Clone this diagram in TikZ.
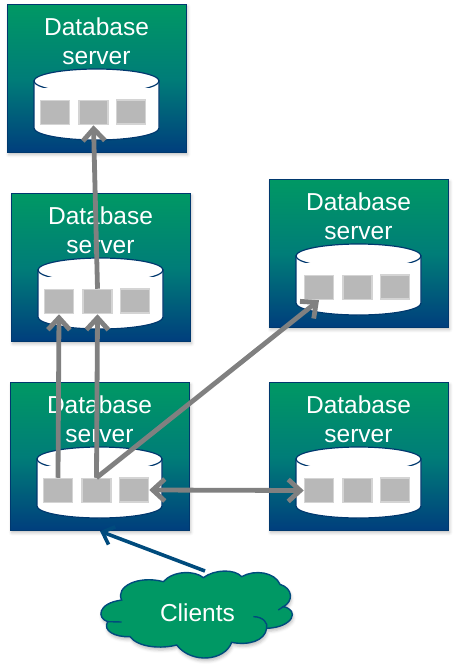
\documentclass[tikz,border=0pt]{standalone}
\usepackage{fontspec}
\setmainfont{Liberation Sans}
\usetikzlibrary{arrows.meta,shadows.blur,calc}
\definecolor{grn}{RGB}{0,152,100}
\definecolor{mid}{RGB}{0,125,120}
\definecolor{blu}{RGB}{0,62,125}
\definecolor{edge}{RGB}{0,56,110}
\definecolor{sq}{RGB}{184,184,184}
\definecolor{sqe}{RGB}{212,212,212}
\definecolor{arr}{RGB}{128,128,128}
\definecolor{cl}{RGB}{0,75,125}
\tikzset{
  serverbox/.style={draw=edge,line width=1.2pt,rectangle,minimum width=179pt,minimum height=148pt,anchor=north west,inner sep=0pt,
    top color=grn,bottom color=blu,middle color=mid,blur shadow={shadow xshift=1pt,shadow yshift=-2pt,shadow blur radius=3pt,shadow opacity=25}},
  label/.style={text=white,font=\fontsize{24.5}{28}\selectfont,inner sep=0pt},
  slot/.style={fill=sq,draw=sqe,line width=1.5pt,minimum width=29pt,minimum height=24pt,inner sep=0pt,rectangle},
  link/.style={draw=arr,line width=4.8pt,-{Straight Barb[length=12pt,width=22pt,line width=4.8pt]}},
  both/.style={draw=arr,line width=4.8pt,{Straight Barb[length=12pt,width=22pt,line width=4.8pt]}-{Straight Barb[length=12pt,width=22pt,line width=4.8pt]}},
  clink/.style={draw=cl,line width=3.6pt,-{Straight Barb[length=10pt,width=19pt,line width=3.6pt]}},
  cloudtext/.style={text=white,font=\fontsize{24.5}{28}\selectfont,inner sep=0pt}
}
\newcommand{\dbserver}[4]{%
  \node[serverbox] (#1) at (#2,#3) {};
  \draw[edge,line width=1.2pt,fill=white] ($(#2,#3)+(27,77)$) -- ($(#2,#3)+(27,124)$) arc[start angle=180,end angle=0,x radius=62.5,y radius=12] -- ($(#2,#3)+(152,77)$) -- cycle;
  \draw[edge,line width=1.2pt,fill=white] ($(#2,#3)+(89.5,77)$) ellipse[x radius=62.5,y radius=12];
  \fill[white] ($(#2,#3)+(27.6,84)$) rectangle ($(#2,#3)+(151.4,120)$);
  \node[label] (#1t1) at ($(#2,#3)+(89.5,23)$) {Database};
  \node[label] (#1t2) at ($(#2,#3)+(89.5,54)$) {server};
  \node[slot] (#1a) at ($(#2,#3)+(48+#4,108.5)$) {};
  \node[slot] (#1b) at ($(#2,#3)+(86.5+#4,108.5)$) {};
  \node[slot] (#1c) at ($(#2,#3)+(124+#4,108)$) {};
}
\begin{document}
\begin{tikzpicture}[x=1pt,y=-1pt]
\useasboundingbox (0,0) rectangle (455,667);
\dbserver{A}{7}{4}{0}
\dbserver{B}{11}{193}{0}
\dbserver{C}{269}{179}{2}
\dbserver{D}{10}{382}{0}
\dbserver{E}{269}{382}{2}
\begin{scope}[shift={(95,565)},x=0.3333pt,y=-0.3333pt]
\draw[cl,line width=1.4pt,fill=grn,blur shadow={shadow xshift=1pt,shadow yshift=-3pt,shadow blur radius=3pt,shadow opacity=25}]
  (80,105) .. controls (60,65) and (130,30) .. (205,50)
  .. controls (235,16) and (300,16) .. (325,38)
  .. controls (360,12) and (420,12) .. (440,35)
  .. controls (480,12) and (540,22) .. (555,58)
  .. controls (595,70) and (595,110) .. (565,125)
  .. controls (615,135) and (595,187) .. (515,190)
  .. controls (510,228) and (460,242) .. (410,232)
  .. controls (390,288) and (290,298) .. (245,240)
  .. controls (200,252) and (130,248) .. (105,215)
  .. controls (60,217) and (22,197) .. (38,170)
  .. controls (6,160) and (6,115) .. (80,105) -- cycle;
\draw[cl,line width=1.4pt] (475,155) .. controls (505,155) and (520,175) .. (515,190);
\draw[cl,line width=1.4pt] (38,170) -- (80,171);
\draw[cl,line width=1.4pt] (565,125) -- (550,135);
\end{scope}
\node[cloudtext] (clients) at (197.5,613) {Clients};
\coordinate (cs) at (205,571);
\draw[link] (Bb.north) -- (Ab.south);
\draw[link] (Da.north) -- (Ba.south);
\draw[link] (Db.north) -- (Bb.south);
\draw[link] (Db.north) -- (Ca.south);
\draw[both] (Dc.east) -- (Ea.west);
\draw[clink] (cs) -- (D.south);
\end{tikzpicture}
\end{document}
